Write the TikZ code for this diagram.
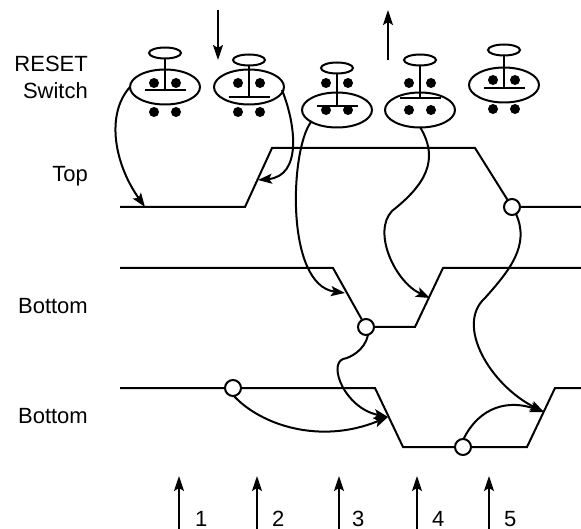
\documentclass[tikz,border=0pt]{standalone}
\usepackage{fontspec}
\setmainfont{Liberation Sans}
\usetikzlibrary{arrows.meta}
\tikzset{
  wire/.style={line width=2pt,line join=miter},
  link/.style={line width=2pt,-{Stealth[length=14pt,width=10pt,inset=3pt]}},
  bigarrow/.style={line width=2pt,-{Stealth[length=15pt,width=10pt,inset=3pt]}},
  ring/.style={circle,draw,fill=white,line width=2pt,minimum size=16pt,inner sep=0pt},
  sidelabel/.style={font=\fontsize{22}{26}\selectfont,anchor=base east,inner sep=0pt},
  numlabel/.style={font=\fontsize{22}{26}\selectfont,anchor=base west,inner sep=0pt},
}
% #1 name, #2 body x, #3 body y, #4 cap y, #5 bar y, #6 upper dot y, #7 lower dot y
\newcommand{\switchfig}[7]{
  \draw[line width=2pt] (#2,#3) ellipse [x radius=35,y radius=17.5];
  \draw[line width=2pt] (#2,#4) ellipse [x radius=16,y radius=5.5];
  \draw[line width=2pt] (#2,#4+5.5) -- (#2,#5);
  \draw[line width=2pt] (#2-20.5,#5) -- (#2+20.5,#5);
  \fill (#2-11,#6) circle (5);
  \fill (#2+11,#6) circle (5);
  \fill (#2-11,#7) circle (5);
  \fill (#2+11,#7) circle (5);
  \coordinate (#1) at (#2,#3);
}
\begin{document}
\begin{tikzpicture}[x=1pt,y=-1pt]
\useasboundingbox (0,0) rectangle (581,529);
\switchfig{swa}{165}{87}{53}{90.5}{83}{112}
\switchfig{swb}{249}{87}{60}{97.5}{83}{112}
\switchfig{swc}{337}{110}{68}{106}{83}{110}
\switchfig{swd}{420}{110}{60}{98}{83}{110}
\switchfig{swe}{504}{85}{50}{88}{80}{109}

\node[sidelabel] (reset) at (88,72) {RESET};
\node[sidelabel] (switch) at (88,99) {Switch};
\node[sidelabel] (top) at (88,182) {Top};
\node[sidelabel] (botA) at (88,313) {Bottom};
\node[sidelabel] (botB) at (88,423) {Bottom};

% waveforms
\draw[wire] (120,207) -- (245,207) -- (272,148) -- (475,148) -- (512,207) -- (581,207);
\draw[wire] (120,268) -- (333,268) -- (366,327) -- (415,327) -- (443,268) -- (581,268);
\draw[wire] (120,388) -- (375,388) -- (403,447) -- (527,447) -- (555,388) -- (581,388);

\coordinate (t1) at (145,207);
\coordinate (t2) at (258,180);
\coordinate (t3) at (345,293);
\coordinate (t4) at (430,298);
\coordinate (t5) at (388,417);
\coordinate (t6) at (544,412);

\draw[link] (130,87) .. controls (105,115) and (115,165) .. (t1);
\draw[link] (282,90) .. controls (296,125) and (302,176) .. (t2);
\draw[link] (311,122) .. controls (290,150) and (285,285) .. (t3);
\draw[link] (420,127) .. controls (440,160) and (425,185) .. (392,211)
  .. controls (372,232) and (395,282) .. (t4);
\draw[link] (516,214) .. controls (530,245) and (510,270) .. (485,298)
  .. controls (455,325) and (490,385) .. (t6);
\draw[link] (368,335) .. controls (365,350) and (350,358) .. (343,359)
  .. controls (328,365) and (345,408) .. (t5);
\draw[link] (233,395) .. controls (260,425) and (320,445) .. (t5);
\draw[link] (463,440) .. controls (480,405) and (510,400) .. (t6);

\node[ring] (ca) at (512,207) {};
\node[ring] (cb) at (366,327) {};
\node[ring] (cc) at (233,388) {};
\node[ring] (cd) at (463,447) {};

% motion arrows
\coordinate (da) at (218,10); \coordinate (db) at (218,60);
\coordinate (ua) at (388,60); \coordinate (ub) at (388,10);
\draw[bigarrow] (da) -- (db);
\draw[bigarrow] (ua) -- (ub);

% time marks
\foreach \xx/\nx/\lab in {179/195/1,257/272/2,339/352/3,417/432/4,489/504/5}{
  \coordinate (m\lab a) at (\xx,529);
  \coordinate (m\lab b) at (\xx,476);
  \draw[bigarrow] (m\lab a) -- (m\lab b);
  \node[numlabel] (n\lab) at (\nx,526) {\lab};
}
\end{tikzpicture}
\end{document}
